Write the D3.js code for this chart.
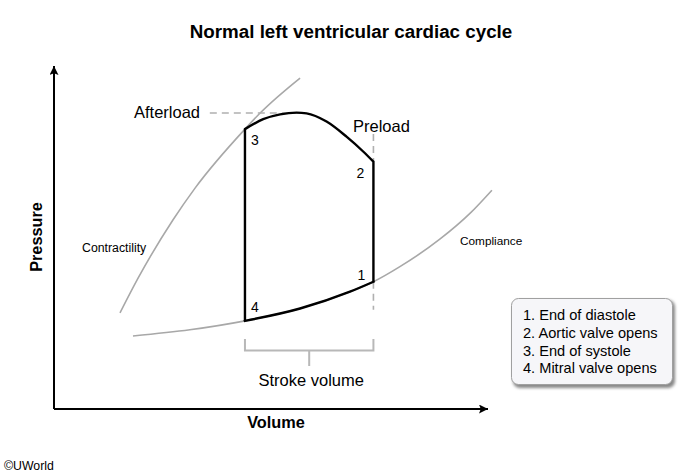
<!DOCTYPE html>
<html><head><meta charset="utf-8">
<script src="https://cdn.jsdelivr.net/npm/d3@7"></script>
<style>body{margin:0;background:#fff}svg{display:block}</style>
</head><body><svg id="c" width="700" height="475"></svg>
<script>
// ---- data (arbitrary volume / pressure units) ----
const titleText = "Normal left ventricular cardiac cycle";
const xAxisLabel = "Volume";
const yAxisLabel = "Pressure";
const loopTop = [[44,81.6],[48.2,84.5],[52.1,85.9],[55.9,86.4],[58.2,86.2],[62.8,83.8],[67.4,79.4],[71.3,75.0],[73.6,72.1]];
const loopBottom = [[44,25.7],[56.7,29.3],[68.2,34.2],[73.6,37.1]];
const compliance = [[18.2,21.3],[31.3,23.1],[44,25.7],[56.7,29.3],[68.2,34.2],[73.6,37.1],[79.7,41.5],[88.9,49.5],[95.9,57.1],[100.9,63.8]];
const contractility = [[15.2,28.0],[19.4,38.2],[27.4,55.1],[32.5,64.4],[44.0,81.6],[47.5,86.3],[56.7,96.5]];
const afterloadLine = [[35.9,86.3],[56.7,86.3]];
const preloadLines = [[[73.6,80.2],[73.6,72.1]],[[73.6,37.1],[73.6,28.9]]];
const strokeVolume = {from:44, to:73.6};
const pointLabels = [
  {n:"1", v:73.6, p:37.1, dx:-16, dy:-2},
  {n:"2", v:73.6, p:72.1, dx:-17, dy:16},
  {n:"3", v:44, p:81.6, dx:6, dy:16},
  {n:"4", v:44, p:25.7, dx:6, dy:-9}
];
const legendItems = ["1. End of diastole","2. Aortic valve opens","3. End of systole","4. Mitral valve opens"];

const svg = d3.select("#c");
const FONT = "'Liberation Sans', Arial, Helvetica, sans-serif";
const x = d3.scaleLinear().domain([0,100]).range([54,488]);
const y = d3.scaleLinear().domain([0,100]).range([409,66]);
const line = d3.line().x(d=>x(d[0])).y(d=>y(d[1]));
const curve = d3.line().x(d=>x(d[0])).y(d=>y(d[1])).curve(d3.curveMonotoneX);

// title
svg.append("text").attr("x",351).attr("y",38).attr("text-anchor","middle")
  .attr("font-family",FONT).attr("font-weight","bold").attr("font-size",18.8).text(titleText);

// axes with arrows
const defs = svg.append("defs");
defs.append("marker").attr("id","arr").attr("viewBox","0 0 10 10").attr("refX",10).attr("refY",5)
  .attr("markerWidth",11).attr("markerHeight",9).attr("markerUnits","userSpaceOnUse").attr("orient","auto")
  .append("path").attr("d","M0,0 L10,5 L0,10 L2,5 Z").attr("fill","#000");
const f = defs.append("filter").attr("id","sh").attr("x","-10%").attr("y","-10%").attr("width","130%").attr("height","140%");
f.append("feGaussianBlur").attr("stdDeviation",1.5);

svg.append("line").attr("x1",x(0)).attr("y1",y(0)).attr("x2",x(0)).attr("y2",y(100))
  .attr("stroke","#000").attr("stroke-width",2).attr("marker-end","url(#arr)");
svg.append("line").attr("x1",x(0)).attr("y1",y(0)).attr("x2",x(100)).attr("y2",y(0))
  .attr("stroke","#000").attr("stroke-width",2).attr("marker-end","url(#arr)");

svg.append("text").attr("x",276).attr("y",428).attr("text-anchor","middle")
  .attr("font-family",FONT).attr("font-weight","bold").attr("font-size",16.3).text(xAxisLabel);
svg.append("text").attr("transform","translate(41.5,237) rotate(-90)").attr("text-anchor","middle")
  .attr("font-family",FONT).attr("font-weight","bold").attr("font-size",16.3).text(yAxisLabel);

// gray curves
svg.append("path").attr("d",curve(compliance)).attr("fill","none").attr("stroke","#a8a8a8").attr("stroke-width",1.6);
svg.append("path").attr("d",curve(contractility)).attr("fill","none").attr("stroke","#a8a8a8").attr("stroke-width",1.6);

// dashed afterload / preload
svg.append("path").attr("d",line(afterloadLine)).attr("stroke","#b0b0b0").attr("stroke-width",1.6).attr("stroke-dasharray","7,5");
preloadLines.forEach(s=>svg.append("path").attr("d",line(s)).attr("stroke","#b0b0b0").attr("stroke-width",1.6).attr("stroke-dasharray","7,5"));

// PV loop
const topD = curve(loopTop).replace(/^M/,"L");
const botD = curve(loopBottom);
const last = loopBottom[loopBottom.length-1];
const loopD = `M${x(loopBottom[0][0])},${y(loopBottom[0][1])}` + topD + `L${x(last[0])},${y(last[1])}`;
svg.append("path").attr("d",loopD).attr("fill","none").attr("stroke","#000").attr("stroke-width",2.4).attr("stroke-linejoin","miter");
svg.append("path").attr("d",botD).attr("fill","none").attr("stroke","#000").attr("stroke-width",2.4).attr("stroke-linecap","square");

pointLabels.forEach(d=>svg.append("text").attr("x",x(d.v)+d.dx).attr("y",y(d.p)+d.dy)
  .attr("font-family",FONT).attr("font-size",14).text(d.n));

// text labels
svg.append("text").attr("x",134).attr("y",118).attr("font-family",FONT).attr("font-size",16.5).text("Afterload");
svg.append("text").attr("x",353).attr("y",132).attr("font-family",FONT).attr("font-size",16.5).text("Preload");
svg.append("text").attr("x",82).attr("y",252).attr("font-family",FONT).attr("font-size",12.3).text("Contractility");
svg.append("text").attr("x",460).attr("y",245).attr("font-family",FONT).attr("font-size",11.8).text("Compliance");

// stroke volume bracket
const sx0 = x(strokeVolume.from), sx1 = x(strokeVolume.to), sxm = (sx0+sx1)/2;
svg.append("path").attr("d",`M${sx0},339 V350.5 H${sx1} V339 M${sxm},350.5 V366`)
  .attr("fill","none").attr("stroke","#b8b8b8").attr("stroke-width",2);
svg.append("text").attr("x",sxm+2).attr("y",386).attr("text-anchor","middle").attr("font-family",FONT).attr("font-size",16.5).text("Stroke volume");

// legend
svg.append("rect").attr("x",513).attr("y",300).attr("width",162).attr("height",88).attr("rx",7)
  .attr("fill","#888").attr("filter","url(#sh)");
svg.append("rect").attr("x",511.5).attr("y",298.5).attr("width",161).attr("height",86).attr("rx",7)
  .attr("fill","#f6f6f9").attr("stroke","#a0a0a0").attr("stroke-width",1);
legendItems.forEach((t,i)=>svg.append("text").attr("x",523).attr("y",320+i*17.8)
  .attr("font-family",FONT).attr("font-size",14.6).text(t));

svg.append("text").attr("x",4).attr("y",470).attr("font-family",FONT).attr("font-size",12.3).text("©UWorld");
</script></body></html>
